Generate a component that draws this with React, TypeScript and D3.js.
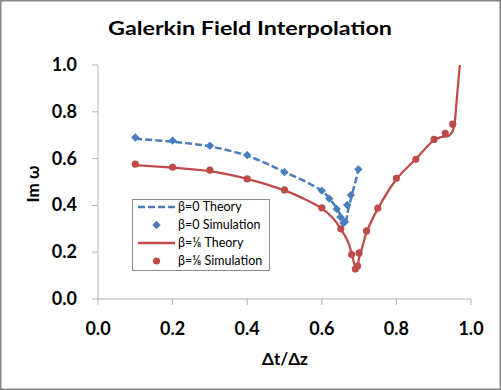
import { useEffect, useRef } from "react";
import * as d3 from "d3";

// beta = 0 (blue)
const blueTheory: [number, number][] = [
  [0.1, 0.685], [0.2, 0.672], [0.3, 0.652], [0.4, 0.612], [0.5, 0.543],
  [0.6, 0.462], [0.63, 0.41], [0.65, 0.36], [0.66, 0.328], [0.664, 0.318],
  [0.668, 0.36], [0.68, 0.44], [0.69, 0.5], [0.698, 0.554],
];
const blueSim: [number, number][] = [
  [0.1, 0.69], [0.2, 0.677], [0.3, 0.655], [0.4, 0.615], [0.5, 0.542],
  [0.6, 0.463], [0.62, 0.429], [0.64, 0.385], [0.65, 0.35], [0.658, 0.325],
  [0.662, 0.33], [0.668, 0.402], [0.678, 0.444], [0.698, 0.554],
];

// beta = 1/8 (red)
const redTheory: [number, number][] = [
  [0.1, 0.572], [0.2, 0.561], [0.3, 0.546], [0.4, 0.513], [0.5, 0.464],
  [0.55, 0.43], [0.6, 0.387], [0.63, 0.345], [0.65, 0.302], [0.67, 0.245],
  [0.68, 0.195], [0.688, 0.145], [0.692, 0.125], [0.696, 0.14], [0.7, 0.175],
  [0.71, 0.23], [0.72, 0.285], [0.75, 0.385], [0.8, 0.512], [0.85, 0.595],
  [0.9, 0.678], [0.92, 0.692], [0.94, 0.697], [0.95, 0.715], [0.956, 0.75],
  [0.96, 0.82], [0.965, 0.91], [0.97, 1.0],
];
const redSim: [number, number][] = [
  [0.1, 0.576], [0.2, 0.563], [0.3, 0.551], [0.4, 0.513], [0.5, 0.466],
  [0.6, 0.39], [0.651, 0.3], [0.68, 0.19], [0.69, 0.128], [0.696, 0.141],
  [0.7, 0.197], [0.72, 0.291], [0.75, 0.388], [0.8, 0.516], [0.852, 0.597],
  [0.901, 0.682], [0.931, 0.708], [0.951, 0.747],
];

const xTicks = [0, 0.2, 0.4, 0.6, 0.8, 1.0];
const yTicks = [0, 0.2, 0.4, 0.6, 0.8, 1.0];

const legendItems = [
  { label: "β=0 Theory", kind: "dash", color: "#4a7ebb" },
  { label: "β=0 Simulation", kind: "diamond", color: "#4a7ebb" },
  { label: "β=⅛ Theory", kind: "line", color: "#be4b48" },
  { label: "β=⅛ Simulation", kind: "circle", color: "#be4b48" },
];

export default function App() {
  const svgRef = useRef<SVGSVGElement>(null);

  useEffect(() => {
    if (!svgRef.current) return;
    const width = 501;
    const height = 390;
    const svg = d3.select(svgRef.current);
    svg.selectAll("*").remove();
    svg.attr("width", width).attr("height", height);

    const font = "Lato, 'Open Sans', sans-serif";

    // chart area border
    svg.append("rect")
      .attr("x", 0.75).attr("y", 0.75)
      .attr("width", width - 1.5).attr("height", height - 1.5)
      .attr("fill", "#fff").attr("stroke", "#868686").attr("stroke-width", 1.5);

    const x = d3.scaleLinear().domain([0, 1]).range([98, 471]);
    const y = d3.scaleLinear().domain([0, 1]).range([299, 65]);

    // title
    svg.append("text")
      .attr("x", 250).attr("y", 35)
      .attr("text-anchor", "middle")
      .attr("font-family", font).attr("font-weight", "bold").attr("font-size", 19)
      .attr("textLength", 284).attr("lengthAdjust", "spacingAndGlyphs")
      .attr("fill", "#000")
      .text("Galerkin Field Interpolation");

    // axes
    const axisColor = "#b3b3b3";
    svg.append("line")
      .attr("x1", x(0)).attr("x2", x(0)).attr("y1", y(1)).attr("y2", y(0))
      .attr("stroke", axisColor);
    svg.append("line")
      .attr("x1", x(0)).attr("x2", x(1)).attr("y1", y(0)).attr("y2", y(0))
      .attr("stroke", axisColor);

    yTicks.forEach(t => {
      svg.append("line")
        .attr("x1", x(0) - 6).attr("x2", x(0)).attr("y1", y(t)).attr("y2", y(t))
        .attr("stroke", axisColor);
      svg.append("text")
        .attr("x", 77).attr("y", y(t) + 6)
        .attr("text-anchor", "end")
        .attr("font-family", font).attr("font-weight", "bold").attr("font-size", 18)
        .text(t.toFixed(1));
    });
    xTicks.forEach(t => {
      svg.append("line")
        .attr("x1", x(t)).attr("x2", x(t)).attr("y1", y(0)).attr("y2", y(0) + 6)
        .attr("stroke", axisColor);
      svg.append("text")
        .attr("x", x(t)).attr("y", 335)
        .attr("text-anchor", "middle")
        .attr("font-family", font).attr("font-weight", "bold").attr("font-size", 18)
        .text(t.toFixed(1));
    });

    // axis titles
    svg.append("text")
      .attr("x", 285).attr("y", 365)
      .attr("text-anchor", "middle")
      .attr("font-family", font).attr("font-weight", "bold").attr("font-size", 17)
      .text("Δt/Δz");
    svg.append("text")
      .attr("transform", `translate(39,184) rotate(-90)`)
      .attr("text-anchor", "middle")
      .attr("font-family", font).attr("font-weight", "bold").attr("font-size", 17)
      .text("Im ω");

    const line = d3.line<[number, number]>()
      .x(d => x(d[0]))
      .y(d => y(d[1]))
      .curve(d3.curveCatmullRom.alpha(0.5));

    // blue dashed theory
    svg.append("path")
      .attr("d", line(blueTheory))
      .attr("fill", "none").attr("stroke", "#4a7ebb")
      .attr("stroke-width", 2.5).attr("stroke-dasharray", "7,3");

    // red theory
    svg.append("path")
      .attr("d", line(redTheory))
      .attr("fill", "none").attr("stroke", "#be4b48")
      .attr("stroke-width", 2.25);

    // square diamond marker
    const diamond = "M0,-4.2L4.2,0L0,4.2L-4.2,0Z";

    svg.append("g").selectAll("path")
      .data(blueSim)
      .enter()
      .append("path")
      .attr("d", diamond)
      .attr("transform", d => `translate(${x(d[0])},${y(d[1])})`)
      .attr("fill", "#4a7ebb");

    svg.append("g").selectAll("circle")
      .data(redSim)
      .enter()
      .append("circle")
      .attr("cx", d => x(d[0])).attr("cy", d => y(d[1]))
      .attr("r", 3.6)
      .attr("fill", "#be4b48");

    // legend
    const lg = svg.append("g");
    lg.append("rect")
      .attr("x", 132.5).attr("y", 199.5).attr("width", 137).attr("height", 71)
      .attr("fill", "#fff").attr("stroke", "#8c8c8c");
    legendItems.forEach((item, i) => {
      const cy = 207 + i * 18;
      if (item.kind === "dash" || item.kind === "line") {
        lg.append("line")
          .attr("x1", 138).attr("x2", 175).attr("y1", cy).attr("y2", cy)
          .attr("stroke", item.color).attr("stroke-width", 2.5)
          .attr("stroke-dasharray", item.kind === "dash" ? "7,3" : null);
      } else if (item.kind === "diamond") {
        lg.append("path")
          .attr("d", diamond)
          .attr("transform", `translate(156.5,${cy})`)
          .attr("fill", item.color);
      } else {
        lg.append("circle")
          .attr("cx", 156.5).attr("cy", cy).attr("r", 3.6)
          .attr("fill", item.color);
      }
      lg.append("text")
        .attr("x", 178).attr("y", cy + 4)
        .attr("font-family", font).attr("font-size", 12.5)
        .attr("fill", "#000")
        .text(item.label);
    });
  }, []);

  return <svg ref={svgRef} style={{ position: "absolute", left: 0, top: 0, display: "block" }} />;
}
